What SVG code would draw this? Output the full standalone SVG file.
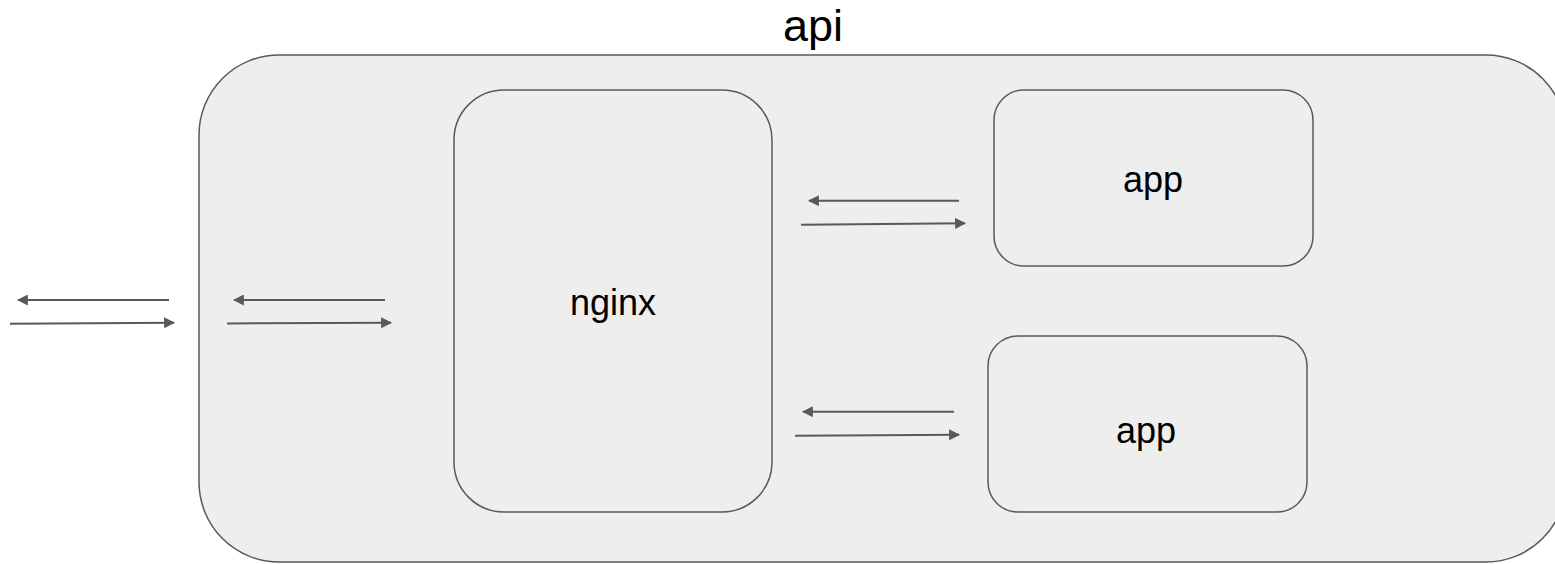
<svg xmlns="http://www.w3.org/2000/svg" width="1555" height="564" viewBox="0 0 1555 564">
<style>
.box{fill:#eeeeee;stroke:#595959;stroke-width:1.5}
.lbl{font-family:"Liberation Sans",Arial,sans-serif;fill:#000}
.arr{stroke:#595959;stroke-width:2;fill:none;marker-end:url(#ah)}
</style>
<defs>
<marker id="ah" viewBox="0 0 10 10" refX="9" refY="5" markerWidth="5.5" markerHeight="5.5" markerUnits="strokeWidth" orient="auto">
<path d="M0,0 L10,5 L0,10 Z" fill="#595959"/>
</marker>
</defs>
<rect width="1555" height="564" fill="#ffffff"/>
<g id="api">
<rect class="box" x="199" y="55" width="1367" height="507" rx="80" ry="80"/>
<text class="lbl" x="813" y="41" font-size="45" text-anchor="middle">api</text>
</g>
<g id="nginx">
<rect class="box" x="454" y="90" width="318" height="422" rx="50" ry="50"/>
<text class="lbl" x="613" y="315" font-size="36" text-anchor="middle">nginx</text>
</g>
<g id="app1">
<rect class="box" x="994" y="90" width="319" height="176" rx="30" ry="30"/>
<text class="lbl" x="1153" y="192" font-size="36" text-anchor="middle">app</text>
</g>
<g id="app2">
<rect class="box" x="988" y="336" width="319" height="176" rx="30" ry="30"/>
<text class="lbl" x="1146" y="443" font-size="36" text-anchor="middle">app</text>
</g>
<g id="connectors">
<line class="arr" x1="169" y1="300" x2="18" y2="300"/>
<line class="arr" x1="10" y1="323.7" x2="174" y2="322.7"/>
<line class="arr" x1="385" y1="300" x2="234" y2="300"/>
<line class="arr" x1="227" y1="323.5" x2="391" y2="322.7"/>
<line class="arr" x1="959" y1="200.7" x2="809" y2="200.7"/>
<line class="arr" x1="801" y1="224.7" x2="965" y2="223.3"/>
<line class="arr" x1="954" y1="411.7" x2="803" y2="411.7"/>
<line class="arr" x1="795" y1="435.7" x2="959" y2="434.7"/>
</g>
</svg>
